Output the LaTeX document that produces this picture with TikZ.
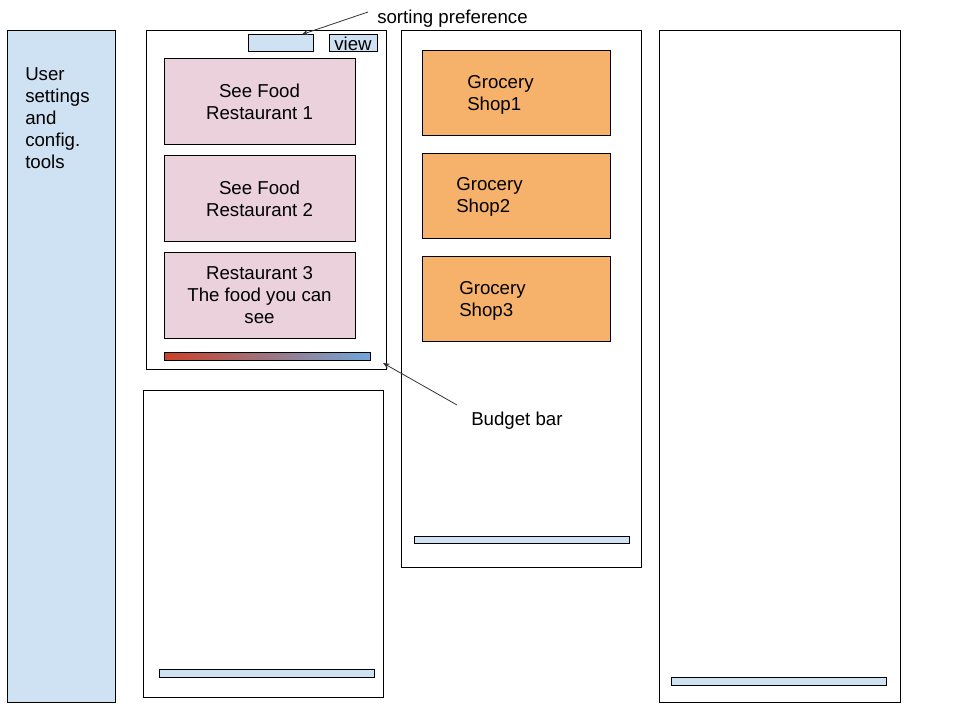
\documentclass[tikz,border=0pt]{standalone}
\usepackage{fontspec}
\setmainfont{Liberation Sans}
\usepackage{tikz}
\usetikzlibrary{arrows.meta}
\definecolor{panelblue}{HTML}{CFE2F3}
\definecolor{foodpink}{HTML}{EAD1DC}
\definecolor{shoporange}{HTML}{F6B26B}
\definecolor{barred}{HTML}{CC4125}
\definecolor{barblue}{HTML}{6FA8DC}

\begin{document}
\begin{tikzpicture}[x=0.75pt,y=-0.75pt,
    box/.style={shape=rectangle,draw,line width=0.75pt,inner sep=0pt},
    word/.style={inner sep=0pt,align=left,font=\fontsize{14}{16.5}\selectfont},
    pointer/.style={draw=black!80,line width=0.6pt,-{Stealth[length=5pt,width=4pt]}}]
    \useasboundingbox (0,0) rectangle (960,720);
    % sidebar
    \node (sidebar) at (61,366.5) [box,fill=panelblue,minimum width=81pt,minimum height=503.25pt] {};
    \node at (25,67) [word,anchor=north west] {User\\settings\\and\\config.\\tools};
    % food panel
    \node (panelA) at (266,200) [box,minimum width=180pt,minimum height=253.5pt] {};
    \node (sortbox) at (280.5,43.5) [box,fill=panelblue,minimum width=48.75pt,minimum height=12.75pt] {};
    \node (viewbox) at (353,43.5) [box,fill=panelblue,minimum width=36pt,minimum height=12.75pt,word,align=center] {view};
    \node (food1) at (259.5,101.5) [box,fill=foodpink,minimum width=143.25pt,minimum height=64.5pt,word,align=center] {See Food\\Restaurant 1};
    \node (food2) at (259.5,198.5) [box,fill=foodpink,minimum width=143.25pt,minimum height=64.5pt,word,align=center] {See Food\\Restaurant 2};
    \node (food3) at (259.5,295.5) [box,fill=foodpink,minimum width=143.25pt,minimum height=64.5pt,word,align=center] {Restaurant 3\\The food you can\\see};
    \node (budget) at (267,356) [box,left color=barred,right color=barblue,minimum width=154.5pt,minimum height=6pt] {};
    % lower panel
    \node (panelB) at (263,543.5) [box,minimum width=180pt,minimum height=230.25pt] {};
    \node (barB) at (266.5,673) [box,fill=panelblue,minimum width=161.25pt,minimum height=6pt] {};
    % grocery panel
    \node (panelC) at (521,299) [box,minimum width=180pt,minimum height=402pt] {};
    \node (shop1) at (516,93.5) [box,fill=shoporange,minimum width=141pt,minimum height=63.75pt] {};
    \node (shop2) at (516,196) [box,fill=shoporange,minimum width=141pt,minimum height=63.75pt] {};
    \node (shop3) at (516,299) [box,fill=shoporange,minimum width=141pt,minimum height=63.75pt] {};
    \node at (467,94.5) [word,anchor=west] {Grocery\\Shop1};
    \node at (456,197) [word,anchor=west] {Grocery\\Shop2};
    \node at (459,301) [word,anchor=west] {Grocery\\Shop3};
    \node (barC) at (521.5,539.5) [box,fill=panelblue,minimum width=161.25pt,minimum height=5.25pt] {};
    % right panel
    \node (panelD) at (779.5,366.5) [box,minimum width=180.75pt,minimum height=503.25pt] {};
    \node (barD) at (778.5,681) [box,fill=panelblue,minimum width=161.25pt,minimum height=6pt] {};
    % labels
    \node (sortlabel) at (377,19) [word,anchor=west] {sorting preference};
    \node (budgetlabel) at (471,421) [word,anchor=west] {Budget bar};
    \coordinate (sorttail) at (368,12);
    \coordinate (budgettail) at (457,405);
    \coordinate (budgettip) at (383,363);
    \draw[pointer] (sorttail) -- (sortbox.23);
    \draw[pointer] (budgettail) -- (budgettip);
\end{tikzpicture}
\end{document}
